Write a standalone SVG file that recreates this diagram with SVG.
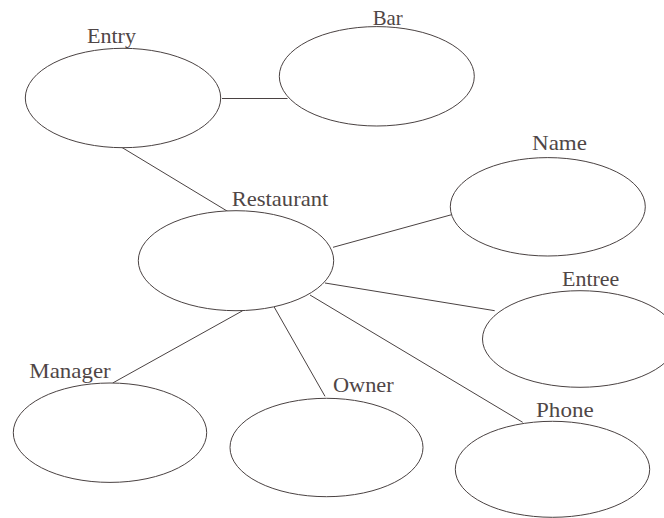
<svg xmlns="http://www.w3.org/2000/svg" width="664" height="518" viewBox="0 0 664 518">
  <style>
    .node ellipse { fill: #ffffff; stroke: #4a4242; stroke-width: 1; }
    .node text { font-family: "Liberation Serif", "Times New Roman", serif; font-size: 22px; fill: #4f4646; }
    #connectors line { stroke: #4a4242; stroke-width: 1; }
  </style>
  <rect width="664" height="518" fill="#ffffff"/>

  <!-- links between entities -->
  <g id="connectors">
    <line x1="222" y1="98.5" x2="287.5" y2="98.5"/>
    <line x1="120.7" y1="146.7" x2="228.7" y2="212"/>
    <line x1="333" y1="247.3" x2="453" y2="214.3"/>
    <line x1="325" y1="283" x2="494.7" y2="310.7"/>
    <line x1="310" y1="295" x2="522.7" y2="422.3"/>
    <line x1="274" y1="306.7" x2="325" y2="396.3"/>
    <line x1="242.7" y1="310.7" x2="112.7" y2="383"/>
  </g>

  <g id="entry" class="node">
    <ellipse cx="123" cy="98" rx="97.7" ry="49.7"/>
    <text x="87" y="43.3" textLength="49" lengthAdjust="spacingAndGlyphs">Entry</text>
  </g>
  <g id="bar" class="node">
    <ellipse cx="376.8" cy="76.3" rx="97.5" ry="49.7"/>
    <text x="372.7" y="25" textLength="30" lengthAdjust="spacingAndGlyphs">Bar</text>
  </g>
  <g id="restaurant" class="node">
    <ellipse cx="236" cy="260.7" rx="97.7" ry="50"/>
    <text x="231.7" y="206" textLength="96.6" lengthAdjust="spacingAndGlyphs">Restaurant</text>
  </g>
  <g id="name" class="node">
    <ellipse cx="547.8" cy="206.8" rx="97.5" ry="49.2"/>
    <text x="532" y="150" textLength="55" lengthAdjust="spacingAndGlyphs">Name</text>
  </g>
  <g id="entree" class="node">
    <ellipse cx="580" cy="339" rx="97.5" ry="48.3"/>
    <text x="562" y="286.3" textLength="57.3" lengthAdjust="spacingAndGlyphs">Entree</text>
  </g>
  <g id="manager" class="node">
    <ellipse cx="110" cy="432.7" rx="96.7" ry="49.7"/>
    <text x="29.3" y="378" textLength="81.4" lengthAdjust="spacingAndGlyphs">Manager</text>
  </g>
  <g id="owner" class="node">
    <ellipse cx="326.5" cy="447.5" rx="96.5" ry="49.2"/>
    <text x="333" y="392.3" textLength="60.7" lengthAdjust="spacingAndGlyphs">Owner</text>
  </g>
  <g id="phone" class="node">
    <ellipse cx="552.5" cy="469.3" rx="97.2" ry="48"/>
    <text x="536" y="417.3" textLength="57.7" lengthAdjust="spacingAndGlyphs">Phone</text>
  </g>
</svg>
